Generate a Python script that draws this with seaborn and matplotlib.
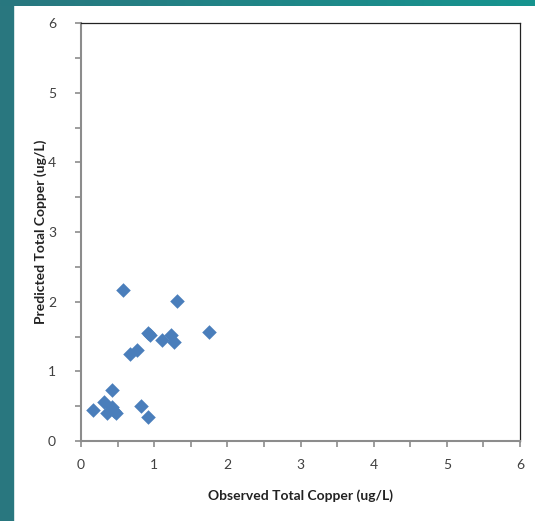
import numpy as np
import pandas as pd
import matplotlib
matplotlib.use("Agg")
import matplotlib.pyplot as plt
import seaborn as sns
from matplotlib.ticker import MultipleLocator
from matplotlib.colors import LinearSegmentedColormap

observed = [0.17, 0.32, 0.42, 0.35, 0.43, 0.48, 0.45, 0.82, 0.91,
            0.58, 1.31, 0.91, 0.945, 1.11, 1.23, 1.27, 1.75, 0.67, 0.76]
predicted = [0.44, 0.56, 0.73, 0.40, 0.49, 0.40, 0.43, 0.50, 0.35,
             2.17, 2.01, 1.555, 1.515, 1.45, 1.515, 1.42, 1.565, 1.25, 1.30]

x_label = "Observed Total Copper (ug/L)"
y_label = "Predicted Total Copper (ug/L)"
ticks = [0, 1, 2, 3, 4, 5, 6]

df = pd.DataFrame({"obs": observed, "pred": predicted})

sns.set_theme(style="white")
plt.rcParams["font.family"] = ["Lato", "DejaVu Sans"]

fig = plt.figure(figsize=(5.35, 5.21), dpi=100)
fig.patch.set_facecolor("white")

# teal frame
fig.add_artist(plt.Rectangle((0, 0), 13 / 535, 1, transform=fig.transFigure,
                             color="#29777f", zorder=0))
bar_ax = fig.add_axes([0, 1 - 6 / 521, 1, 6 / 521])
grad = np.linspace(0, 1, 256)[None, :]
cm = LinearSegmentedColormap.from_list("t", ["#29777f", "#16948f"])
bar_ax.imshow(grad, aspect="auto", cmap=cm, extent=[0, 1, 0, 1])
bar_ax.axis("off")

left, right, top, bottom = 81, 520, 23, 441
ax = fig.add_axes([left / 535, 1 - bottom / 521, (right - left) / 535, (bottom - top) / 521])

sns.scatterplot(data=df, x="obs", y="pred", marker="D", s=55, color="#4a7ebb",
                edgecolor="#4a7ebb", linewidth=0, ax=ax, zorder=3, clip_on=False)

ax.set_xlim(0, 6)
ax.set_ylim(0, 6)
ax.set_xticks(ticks)
ax.set_yticks(ticks)
ax.set_xticklabels([str(t) for t in ticks])
ax.set_yticklabels([str(t) for t in ticks])
ax.xaxis.set_minor_locator(MultipleLocator(0.5))
ax.yaxis.set_minor_locator(MultipleLocator(0.5))

for side in ["left", "bottom"]:
    ax.spines[side].set_color("#8c8c8c")
    ax.spines[side].set_linewidth(1.5)
for side in ["top", "right"]:
    ax.spines[side].set_color("#222222")
    ax.spines[side].set_linewidth(0.9)

ax.tick_params(axis="both", which="both", direction="out", length=4, width=1.2,
               color="#8c8c8c", labelsize=10, labelcolor="#404040")
ax.tick_params(axis="both", which="major", bottom=True, left=True)
ax.tick_params(axis="both", which="minor", bottom=True, left=True)
ax.tick_params(axis="x", which="major", pad=9)
ax.tick_params(axis="y", which="major", pad=14)

ax.set_xlabel(x_label, fontsize=10, fontweight="bold", color="#222222")
ax.set_ylabel(y_label, fontsize=10, fontweight="bold", color="#222222")
ax.xaxis.set_label_coords(0.5, (bottom - 489) / (bottom - top))
ax.yaxis.set_label_coords((47 - left) / (right - left), 0.5)

fig.savefig("out.png", dpi=100)
